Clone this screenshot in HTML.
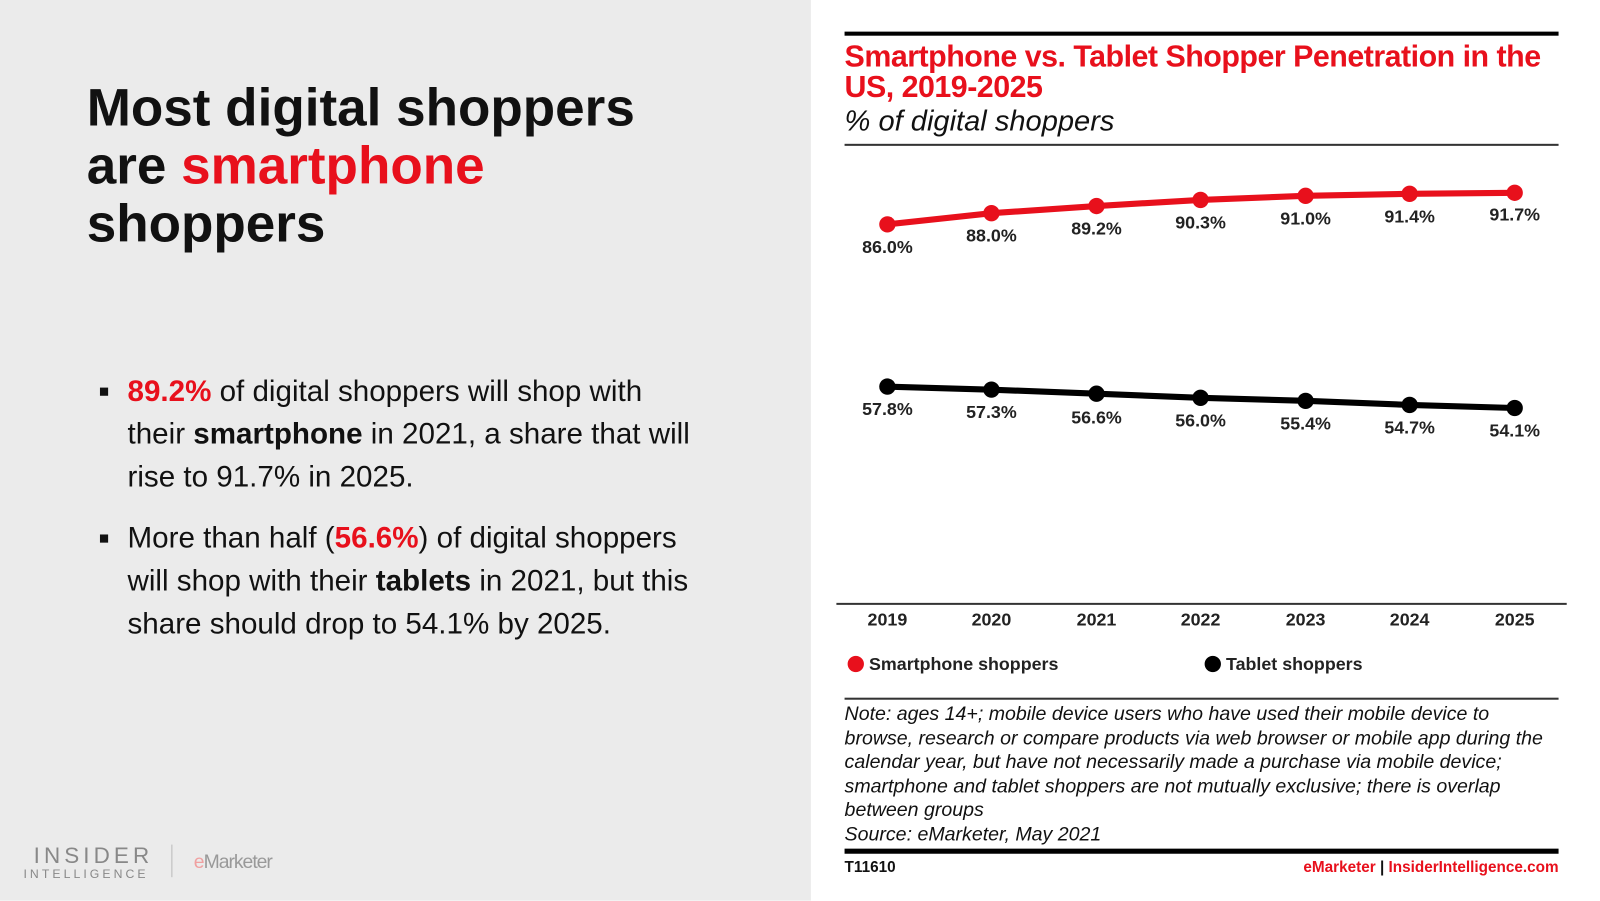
<!DOCTYPE html>
<html><head><meta charset="utf-8"><style>
html,body{margin:0;padding:0;width:1600px;height:900px;overflow:hidden;background:#fff;font-family:"Liberation Sans",sans-serif}
#w{position:absolute;left:0;top:0;width:1570px;height:883px;transform:scale(1.02);transform-origin:0 0}
.l{position:absolute;left:0;top:0;width:795px;height:883px;background:#ebebeb}
.a{position:absolute;white-space:nowrap}
h1{position:absolute;left:85px;top:78px;margin:0;font-size:52px;line-height:57px;font-weight:bold;color:#111}
.r{color:#e8101c}
.b{position:absolute;left:125px;font-size:29px;line-height:42px;color:#111}
.sq{position:absolute;left:98px;width:8px;height:8px;background:#111}
</style></head><body><div id="w">
<div class="l"></div>
<h1>Most digital shoppers<br>are <span class="r">smartphone</span><br>shoppers</h1>
<div class="sq" style="top:380px"></div>
<div class="b" style="top:363px"><b class="r">89.2%</b> of digital shoppers will shop with<br>their <b>smartphone</b> in 2021, a share that will<br>rise to 91.7% in 2025.</div>
<div class="sq" style="top:524px"></div>
<div class="b" style="top:507px">More than half (<b class="r">56.6%</b>) of digital shoppers<br>will shop with their <b>tablets</b> in 2021, but this<br>share should drop to 54.1% by 2025.</div>
<div class="a" style="left:33px;top:826px;font-size:22px;letter-spacing:4px;color:#888">INSIDER</div>
<div class="a" style="left:23px;top:850px;font-size:12px;letter-spacing:3px;color:#888">INTELLIGENCE</div>
<div class="a" style="left:168px;top:828px;width:1px;height:32px;background:#bbb"></div>
<div class="a" style="left:190px;top:835px;font-size:19px;color:#999;letter-spacing:-1px"><span style="color:#f0a0a0">e</span>Marketer</div>

<div class="a" style="left:828px;top:31px;width:700px;height:4px;background:#000"></div>
<div class="a" style="left:828px;top:41px;font-size:29.8px;line-height:30px;font-weight:bold;color:#e8101c;letter-spacing:-0.5px">Smartphone vs. Tablet Shopper Penetration in the<br>US, 2019-2025</div>
<div class="a" style="left:828px;top:103px;font-size:28.5px;font-style:italic;color:#111">% of digital shoppers</div>
<div class="a" style="left:828px;top:141px;width:700px;height:2px;background:#333"></div>
<svg class="a" style="left:0;top:0" width="1570" height="883" font-family="Liberation Sans" font-weight="bold" font-size="17.5" text-anchor="middle">
<g transform="translate(0,1)">
<polyline points="870,219 972,208 1075,201 1177,195 1280,191 1382,189 1485,188" fill="none" stroke="#e8101c" stroke-width="6"/>
<polyline points="870,378 972,381 1075,385 1177,389 1280,392 1382,396 1485,399" fill="none" stroke="#000" stroke-width="6"/>
<g fill="#e8101c"><circle cx="870" cy="219" r="8"/><circle cx="972" cy="208" r="8"/><circle cx="1075" cy="201" r="8"/><circle cx="1177" cy="195" r="8"/><circle cx="1280" cy="191" r="8"/><circle cx="1382" cy="189" r="8"/><circle cx="1485" cy="188" r="8"/></g>
<g fill="#000"><circle cx="870" cy="378" r="8"/><circle cx="972" cy="381" r="8"/><circle cx="1075" cy="385" r="8"/><circle cx="1177" cy="389" r="8"/><circle cx="1280" cy="392" r="8"/><circle cx="1382" cy="396" r="8"/><circle cx="1485" cy="399" r="8"/></g>
<g fill="#222"><text x="870" y="247">86.0%</text><text x="972" y="236">88.0%</text><text x="1075" y="229">89.2%</text><text x="1177" y="223">90.3%</text><text x="1280" y="219">91.0%</text><text x="1382" y="217">91.4%</text><text x="1485" y="215">91.7%</text>
<text x="870" y="406">57.8%</text><text x="972" y="409">57.3%</text><text x="1075" y="414">56.6%</text><text x="1177" y="417">56.0%</text><text x="1280" y="420">55.4%</text><text x="1382" y="424">54.7%</text><text x="1485" y="427">54.1%</text>
<text x="870" y="612">2019</text><text x="972" y="612">2020</text><text x="1075" y="612">2021</text><text x="1177" y="612">2022</text><text x="1280" y="612">2023</text><text x="1382" y="612">2024</text><text x="1485" y="612">2025</text></g>
<line x1="820" y1="591" x2="1536" y2="591" stroke="#333" stroke-width="2"/>
<circle cx="839" cy="650" r="8" fill="#e8101c"/><text x="852" y="656" text-anchor="start" fill="#222">Smartphone shoppers</text>
<circle cx="1189" cy="650" r="8" fill="#000"/><text x="1202" y="656" text-anchor="start" fill="#222">Tablet shoppers</text>
</g>
</svg>
<div class="a" style="left:828px;top:684px;width:700px;height:2px;background:#333"></div>
<div class="a" style="left:828px;top:689px;font-size:19.2px;line-height:23.5px;font-style:italic;color:#111">Note: ages 14+; mobile device users who have used their mobile device to<br>browse, research or compare products via web browser or mobile app during the<br>calendar year, but have not necessarily made a purchase via mobile device;<br>smartphone and tablet shoppers are not mutually exclusive; there is overlap<br>between groups<br>Source: eMarketer, May 2021</div>
<div class="a" style="left:828px;top:832px;width:700px;height:5px;background:#000"></div>
<div class="a" style="left:828px;top:842px;font-size:15px;font-weight:bold;color:#111">T11610</div>
<div class="a" style="left:1200px;top:842px;font-size:15px;font-weight:bold;color:#111;width:328px;text-align:right"><span class="r">eMarketer</span> | <span class="r">InsiderIntelligence.com</span></div>
</div></body></html>
